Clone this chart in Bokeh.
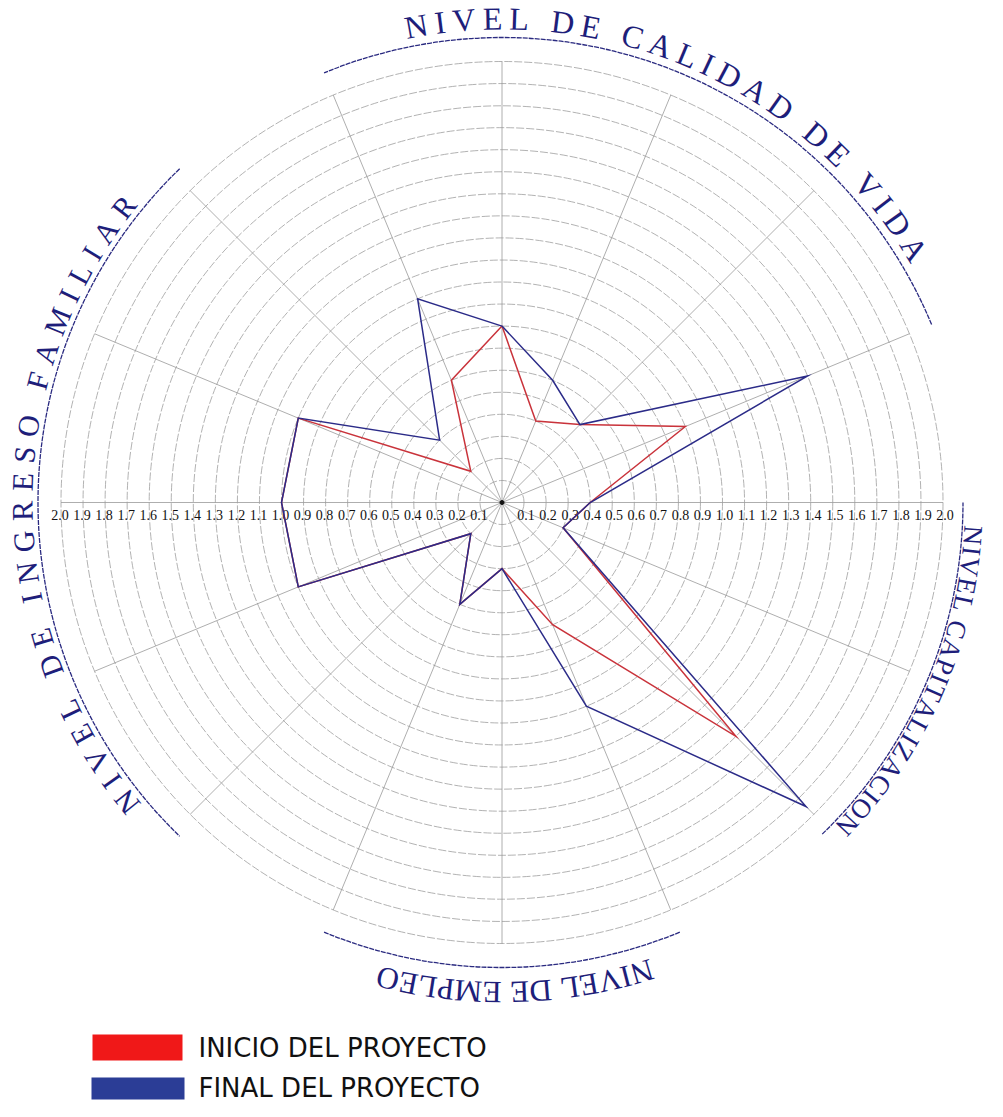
import math
from bokeh.plotting import figure
from bokeh.models import Range1d, ColumnDataSource
from bokeh.embed import file_html
from bokeh.resources import INLINE
from bokeh.core.properties import value

# ---------------- data ----------------
# 16 spokes, clockwise from the top
inicio_del_proyecto = [0.8, 0.4, 0.5, 0.9, 0.4, 0.3, 1.5, 0.6, 0.3, 0.5, 0.2, 1.0, 1.0, 1.0, 0.2, 0.6]
final_del_proyecto = [0.8, 0.6, 0.5, 1.5, 0.4, 0.3, 1.95, 1.0, 0.3, 0.5, 0.2, 1.0, 1.0, 1.0, 0.4, 1.0]
ring_values = [0.1, 0.2, 0.3, 0.4, 0.5, 0.6, 0.7, 0.8, 0.9, 1.0,
               1.1, 1.2, 1.3, 1.4, 1.5, 1.6, 1.7, 1.8, 1.9, 2.0]
tick_labels = ["0.1", "0.2", "0.3", "0.4", "0.5", "0.6", "0.7", "0.8", "0.9", "1.0",
               "1.1", "1.2", "1.3", "1.4", "1.5", "1.6", "1.7", "1.8", "1.9", "2.0"]
titles = ["NIVEL DE CALIDAD DE VIDA", "NIVEL CAPITALIZACION", "NIVEL DE EMPLEO", "NIVEL DE INGRESO FAMILIAR"]
legend_labels = ["INICIO DEL PROYECTO", "FINAL DEL PROYECTO"]
n_axes = 16

# ---------------- layout ----------------
W, H = 987, 1101
CX, CY = 509.5, 510.0      # page pixel of centre
S = 220.5                  # pixels per 1.0 unit

def pxd(x, y):
    return ((x - CX) / S, (CY - y) / S)

p = figure(width=W, height=H,
           x_range=Range1d((8 - CX) / S, (8 + W - CX) / S),
           y_range=Range1d((CY - 8 - H) / S, (CY - 8) / S),
           x_axis_type=None, y_axis_type=None,
           output_backend="svg", toolbar_location=None, min_border=0)
p.grid.visible = False
p.outline_line_color = None
p.background_fill_color = "white"

# rings
p.circle(x=[0] * len(ring_values), y=[0] * len(ring_values), radius=ring_values,
         fill_color=None, line_color="#9e9e9e", line_width=0.8, line_dash="8 2")

# spokes
angles = [2 * math.pi * i / n_axes for i in range(n_axes)]
rmax = ring_values[-1]
p.segment(x0=[0] * n_axes, y0=[0] * n_axes,
          x1=[rmax * math.sin(a) for a in angles], y1=[rmax * math.cos(a) for a in angles],
          line_color="#999999", line_width=0.8)

# tick labels along horizontal axis
lab_x, lab_t = [], []
for v, t in zip(ring_values, tick_labels):
    lab_x += [v + 2 / S, -(v + 1 / S)]
    lab_t += [t, t]
p.text(x=lab_x, y=[-12 / S] * len(lab_x), text=lab_t, text_align="center",
       text_baseline="middle", text_font=value("Liberation Serif"),
       text_font_size="14px", text_color="#111111")

# data polygons
def closed(vals):
    xs = [v * math.sin(a) for v, a in zip(vals, angles)]
    ys = [v * math.cos(a) for v, a in zip(vals, angles)]
    return xs + xs[:1], ys + ys[:1]

xr, yr = closed(inicio_del_proyecto)
p.line(xr, yr, line_color="#c9333b", line_width=1.5, line_join="miter")
xb, yb = closed(final_del_proyecto)
p.line(xb, yb, line_color="#2b2b88", line_width=1.5, line_join="miter")

p.scatter(x=[0], y=[0], size=4, color="#111111")

# decorative arcs (clockwise-from-top degrees, radius px)
arc_spans = [(-22.5, 67.5, 465), (90, 136, 461), (157.5, 202.5, 465), (224, 316, 464)]
for a0, a1, rr in arc_spans:
    p.arc(x=0, y=0, radius=rr / S,
          start_angle=math.radians(90 - a1), end_angle=math.radians(90 - a0),
          line_color="#2a2a80", line_width=1.3, line_dash="5 1")

# curved titles
TW = {"N": .722, "I": .333, "V": .722, "E": .611, "L": .611, " ": .25, "D": .722,
      "C": .667, "A": .722, "P": .556, "T": .611, "Z": .611, "O": .722, "G": .722,
      "R": .667, "S": .556, "F": .556, "M": .889}
# (start deg, end deg, radius px, font px)
title_geom = [(-10.2, 58.4, 484, 32), (94.0, 133.0, 472, 27),
              (163.4, 193.5, 490, 31), (231.4, 308.0, 480, 30)]
for text, (d0, d1, rpx, fs) in zip(titles, title_geom):
    tx, ty, tt, ta = [], [], [], []
    w = [TW[c] * fs for c in text]
    centers = []
    acc = 0
    for wi in w:
        centers.append(acc + wi / 2)
        acc += wi
    centers = [c - centers[0] for c in centers]
    arc_len = math.radians(d1 - d0) * rpx
    extra = (arc_len - centers[-1]) / (len(text) - 1)
    for i, c in enumerate(text):
        s = centers[i] + i * extra
        th = math.radians(d0) + s / rpx
        r = rpx / S
        tx.append(r * math.sin(th))
        ty.append(r * math.cos(th))
        tt.append(c)
        ta.append(-th)
    p.text(x=tx, y=ty, text=tt, angle=ta, text_align="center", text_baseline="middle",
           text_font=value("Liberation Serif"), text_font_size=f"{fs}px", text_color="#1e1e7a")

# legend
l0, t0 = pxd(100, 1042)
r0, b0 = pxd(190, 1068)
l1, t1 = pxd(99, 1085)
r1, b1 = pxd(192, 1107)
p.quad(left=[l0, l1], right=[r0, r1], top=[t0, t1], bottom=[b0, b1],
       fill_color=["#f01818", "#2b3d96"], line_color=None)
lx, ly0 = pxd(206, 1055)
_, ly1 = pxd(206, 1095)
p.text(x=[lx, lx], y=[ly0, ly1], text=legend_labels, text_align="left",
       text_baseline="middle", text_font=value("DejaVu Sans"), text_font_size="26px",
       text_color="#111111")

open("out.html", "w").write(file_html(p, INLINE))
